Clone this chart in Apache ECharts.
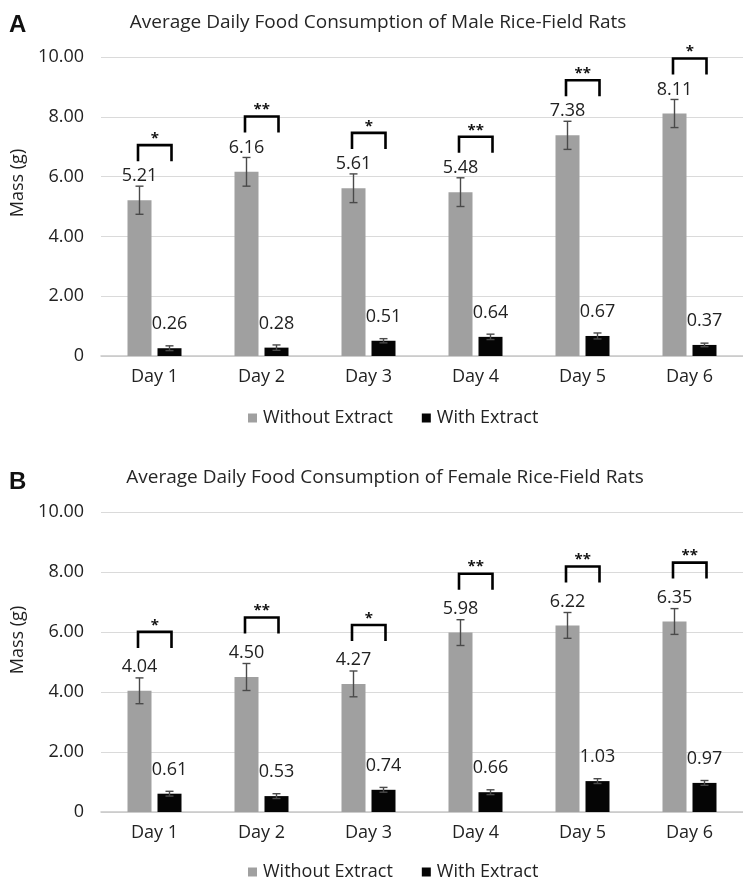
<!DOCTYPE html>
<html>
<head>
<meta charset="utf-8">
<script src="https://cdn.jsdelivr.net/npm/echarts@6/dist/echarts.min.js"></script>
<style>
html,body{margin:0;padding:0;background:#fff;}
#chart{width:743px;height:877px;}
</style>
</head>
<body>
<div id="chart"></div>
<script>
const days = ['Day 1', 'Day 2', 'Day 3', 'Day 4', 'Day 5', 'Day 6'];
const yTickLabels = ['0', '2.00', '4.00', '6.00', '8.00', '10.00'];
const seriesNames = ['Without Extract', 'With Extract'];

const maleWithout = [5.21, 6.16, 5.61, 5.48, 7.38, 8.11];
const maleWith = [0.26, 0.28, 0.51, 0.64, 0.67, 0.37];
const maleWithoutErr = [0.47, 0.48, 0.48, 0.48, 0.47, 0.47];
const maleWithErr = [0.08, 0.09, 0.07, 0.09, 0.10, 0.06];
const maleSig = ['*', '**', '*', '**', '**', '*'];

const femaleWithout = [4.04, 4.50, 4.27, 5.98, 6.22, 6.35];
const femaleWith = [0.61, 0.53, 0.74, 0.66, 1.03, 0.97];
const femaleWithoutErr = [0.43, 0.45, 0.43, 0.43, 0.43, 0.43];
const femaleWithErr = [0.08, 0.08, 0.08, 0.08, 0.08, 0.08];
const femaleSig = ['*', '**', '*', '**', '**', '**'];

const titles = ['Average Daily Food Consumption of Male Rice-Field Rats',
                'Average Daily Food Consumption of Female Rice-Field Rats'];
const panelLetters = ['A', 'B'];

const FONT = 'Open Sans';
const GRAY = '#a0a0a0';
const BLACK = '#050505';
const BAR_W = 24;
const HALF = 15; // half of bar centre spacing

function errorRender(offset) {
  return function (params, api) {
    const x = api.value(0), m = api.value(1), e = api.value(2);
    const hi = api.coord([x, m + e]);
    const lo = api.coord([x, m - e]);
    const cx = hi[0] + offset;
    const w = 4;
    const style = { stroke: '#4a4a4a', lineWidth: 1.4 };
    return {
      type: 'group',
      children: [
        { type: 'line', shape: { x1: cx, y1: hi[1], x2: cx, y2: lo[1] }, style },
        { type: 'line', shape: { x1: cx - w, y1: hi[1], x2: cx + w, y2: hi[1] }, style },
        { type: 'line', shape: { x1: cx - w, y1: lo[1], x2: cx + w, y2: lo[1] }, style }
      ]
    };
  };
}

function bracketRender(sig, lift) {
  return function (params, api) {
    const x = api.value(0), m = api.value(1), e = api.value(2);
    const p = api.coord([x, m + e]);
    const top = p[1] - lift;
    const l = p[0] - HALF - 1.5;
    const r = p[0] + HALF + 2;
    const leg = 16;
    const style = { stroke: '#000', lineWidth: 2.6, fill: null };
    return {
      type: 'group',
      children: [
        { type: 'polyline', shape: { points: [[l, top + leg], [l, top], [r, top], [r, top + leg]] }, style },
        { type: 'text', x: (l + r) / 2, y: top + 1,
          style: { text: sig[params.dataIndex], font: 'bold 15px "' + FONT + '"', fill: '#111',
                   align: 'center', verticalAlign: 'bottom' } }
      ]
    };
  };
}

function triples(vals, errs) {
  return vals.map((v, i) => [i, v, errs[i]]);
}

const grids = [
  { left: 101, width: 651, top: 57, height: 299 },
  { left: 101, width: 651, top: 512, height: 300 }
];

const panels = [
  { without: maleWithout, withE: maleWith, wErr: maleWithoutErr, eErr: maleWithErr, sig: maleSig, lift: 41 },
  { without: femaleWithout, withE: femaleWith, wErr: femaleWithoutErr, eErr: femaleWithErr, sig: femaleSig, lift: 46 }
];

const xAxes = [], yAxes = [], series = [], legends = [], graphics = [];

panels.forEach((p, g) => {
  xAxes.push({
    type: 'category', gridIndex: g, data: days,
    axisTick: { show: false },
    axisLine: { lineStyle: { color: '#c8c8c8', width: 1.5 } },
    axisLabel: { color: '#222', fontFamily: FONT, fontSize: 18, margin: 12 }
  });
  yAxes.push({
    type: 'value', gridIndex: g, min: 0, max: 10, interval: 2,
    axisLine: { show: false }, axisTick: { show: false },
    splitLine: { lineStyle: { color: '#dadada', width: 1 } },
    axisLabel: { color: '#222', fontFamily: FONT, fontSize: 18, margin: 17,
                 formatter: (v) => yTickLabels[Math.round(v / 2)] }
  });
  const lbl = {
    show: true, position: 'top', distance: 15, color: '#222',
    fontFamily: FONT, fontSize: 18,
    formatter: (d) => d.value.toFixed(2)
  };
  series.push({
    name: seriesNames[0], type: 'bar', xAxisIndex: g, yAxisIndex: g,
    data: p.without, barWidth: BAR_W, barGap: '25%',
    itemStyle: { color: GRAY }, label: lbl, z: 2
  });
  series.push({
    name: seriesNames[1], type: 'bar', xAxisIndex: g, yAxisIndex: g,
    data: p.withE, barWidth: BAR_W, barGap: '25%',
    itemStyle: { color: BLACK }, label: lbl, z: 2
  });
  series.push({
    type: 'custom', xAxisIndex: g, yAxisIndex: g, silent: true, z: 3,
    renderItem: errorRender(-HALF), data: triples(p.without, p.wErr)
  });
  series.push({
    type: 'custom', xAxisIndex: g, yAxisIndex: g, silent: true, z: 3,
    renderItem: errorRender(HALF), data: triples(p.withE, p.eErr)
  });
  series.push({
    type: 'custom', xAxisIndex: g, yAxisIndex: g, silent: true, z: 4, clip: false,
    renderItem: bracketRender(p.sig, p.lift), data: triples(p.without, p.wErr)
  });
  legends.push({
    data: seriesNames, left: 243, top: g === 0 ? 404 : 858,
    icon: 'rect', itemWidth: 9, itemHeight: 9, itemGap: 29,
    textStyle: { color: '#222', fontFamily: FONT, fontSize: 18, padding: [0, 0, 0, 1] },
    selectedMode: false
  });
});

graphics.push(
  { type: 'text', left: 9, top: 13, style: { text: panelLetters[0], font: 'bold 24px "Liberation Sans"', fill: '#111' } },
  { type: 'text', left: 9, top: 470, style: { text: panelLetters[1], font: 'bold 24px "Liberation Sans"', fill: '#111' } },
  { type: 'text', x: 378, y: 23, style: { text: titles[0], font: '19px "' + FONT + '"', fill: '#262626', align: 'center', verticalAlign: 'middle' } },
  { type: 'text', x: 385, y: 478, style: { text: titles[1], font: '19px "' + FONT + '"', fill: '#262626', align: 'center', verticalAlign: 'middle' } },
  { type: 'text', x: 18, y: 183, rotation: Math.PI / 2, style: { text: 'Mass (g)', font: '18px "' + FONT + '"', fill: '#222', align: 'center', verticalAlign: 'middle' } },
  { type: 'text', x: 18, y: 640, rotation: Math.PI / 2, style: { text: 'Mass (g)', font: '18px "' + FONT + '"', fill: '#222', align: 'center', verticalAlign: 'middle' } }
);

const chart = echarts.init(document.getElementById('chart'), null, { renderer: 'canvas' });
chart.setOption({
  animation: false,
  backgroundColor: '#fff',
  grid: grids,
  xAxis: xAxes,
  yAxis: yAxes,
  legend: legends,
  series: series,
  graphic: graphics
});
</script>
</body>
</html>
